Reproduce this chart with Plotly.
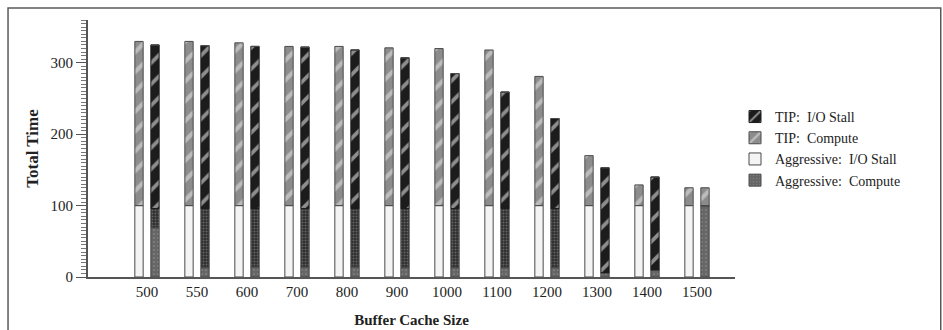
import plotly.graph_objects as go

# Buffer cache sizes on the x axis
cache_sizes = ["500", "550", "600", "700", "800", "900", "1000", "1100", "1200", "1300", "1400", "1500"]

# Left bar of each pair
left_io_stall = [100, 100, 100, 100, 100, 100, 100, 100, 100, 100, 100, 100]
left_total = [330, 330, 328, 323, 323, 321, 320, 318, 281, 170, 129, 125]

# Right bar of each pair
right_compute_solid = [69, 13, 14, 14, 14, 13, 13, 13, 13, 6, 10, 100]
right_compute_stipple = [27, 83, 82, 82, 82, 83, 83, 83, 83, 0, 0, 0]
right_total = [325, 324, 323, 322, 318, 307, 285, 259, 222, 153, 140, 100]
right_cap = [0, 0, 0, 0, 0, 0, 0, 0, 0, 0, 0, 25]

left_upper = [t - b for t, b in zip(left_total, left_io_stall)]
right_lower = [a + b for a, b in zip(right_compute_solid, right_compute_stipple)]
right_upper = [t - l for t, l in zip(right_total, right_lower)]
right_cap_base = [l + u for l, u in zip(right_lower, right_upper)]

SERIF = "Liberation Serif, Times New Roman, serif"
OUTLINE = dict(color="#4a4a4a", width=1)

fig = go.Figure()

fig.add_trace(go.Bar(
    x=cache_sizes, y=left_io_stall, base=[0] * len(cache_sizes),
    offsetgroup="a", name="Aggressive:  I/O Stall", legendrank=3,
    marker=dict(color="#f4f4f4", line=OUTLINE),
))
fig.add_trace(go.Bar(
    x=cache_sizes, y=left_upper, base=left_io_stall,
    offsetgroup="a", name="TIP:  Compute", legendrank=2,
    marker=dict(color="#8c8c8c", line=OUTLINE,
                pattern=dict(shape="/", bgcolor="#8c8c8c", fgcolor="#ececec",
                             size=14, solidity=0.3)),
))
fig.add_trace(go.Bar(
    x=cache_sizes, y=right_compute_solid, base=[0] * len(cache_sizes),
    offsetgroup="b", name="Aggressive:  Compute", legendrank=4,
    marker=dict(color="#666666", line=OUTLINE,
                pattern=dict(shape=".", bgcolor="#666666", fgcolor="#9a9a9a",
                             size=4, solidity=0.2)),
))
fig.add_trace(go.Bar(
    x=cache_sizes, y=right_compute_stipple, base=right_compute_solid,
    offsetgroup="b", name="Aggressive:  Compute", legendgroup="agg_compute",
    showlegend=False,
    marker=dict(color="#2e2e2e", line=OUTLINE,
                pattern=dict(shape=".", bgcolor="#2e2e2e", fgcolor="#9a9a9a",
                             size=3, solidity=0.35)),
))
fig.add_trace(go.Bar(
    x=cache_sizes, y=right_upper, base=right_lower,
    offsetgroup="b", name="TIP:  I/O Stall", legendrank=1,
    marker=dict(color="#1c1c1c", line=dict(color="#1c1c1c", width=1),
                pattern=dict(shape="/", bgcolor="#1c1c1c", fgcolor="#ffffff",
                             size=15, solidity=0.25)),
))
fig.add_trace(go.Bar(
    x=cache_sizes, y=right_cap, base=right_cap_base,
    offsetgroup="b", name="TIP:  Compute", showlegend=False,
    marker=dict(color="#8c8c8c", line=OUTLINE,
                pattern=dict(shape="/", bgcolor="#8c8c8c", fgcolor="#ececec",
                             size=14, solidity=0.3)),
))

# Page frame around the figure
fig.add_shape(type="rect", xref="paper", yref="paper",
              x0=-0.1236, x1=1.318, y0=-0.35, y1=1.0467,
              line=dict(color="#5a5a5a", width=1.5), layer="below")

fig.update_layout(
    width=943, height=330,
    margin=dict(l=88, r=208, t=20, b=53),
    paper_bgcolor="white", plot_bgcolor="white",
    barmode="group", bargap=0.36, bargroupgap=0.48,
    font=dict(family=SERIF, size=14, color="#222"),
    showlegend=True,
    legend=dict(x=1.0, y=0.685, xanchor="left", yanchor="top",
                font=dict(family=SERIF, size=14, color="#222"),
                bgcolor="rgba(0,0,0,0)", tracegroupgap=0),
    xaxis=dict(
        type="category", range=[-1.18, 11.76], automargin=False,
        showline=True, linecolor="#555", linewidth=2,
        ticks="", showgrid=False, zeroline=False,
        tickfont=dict(family=SERIF, size=15, color="#222"),
        title=dict(text="<b>Buffer Cache Size</b>", standoff=15,
                   font=dict(family=SERIF, size=15, color="#222")),
    ),
    yaxis=dict(
        range=[0, 360], tickvals=[0, 100, 200, 300], automargin=False,
        showline=True, linecolor="#555", linewidth=2,
        ticks="outside", ticklen=10, tickcolor="#555", tickwidth=1,
        minor=dict(dtick=5, ticks="outside", ticklen=5, tickcolor="#777", tickwidth=1),
        showgrid=False, zeroline=False,
        tickfont=dict(family=SERIF, size=15, color="#222"),
        title=dict(text="<b>Total Time</b>", standoff=8,
                   font=dict(family=SERIF, size=17, color="#222")),
    ),
)

fig.write_html("out.html")
